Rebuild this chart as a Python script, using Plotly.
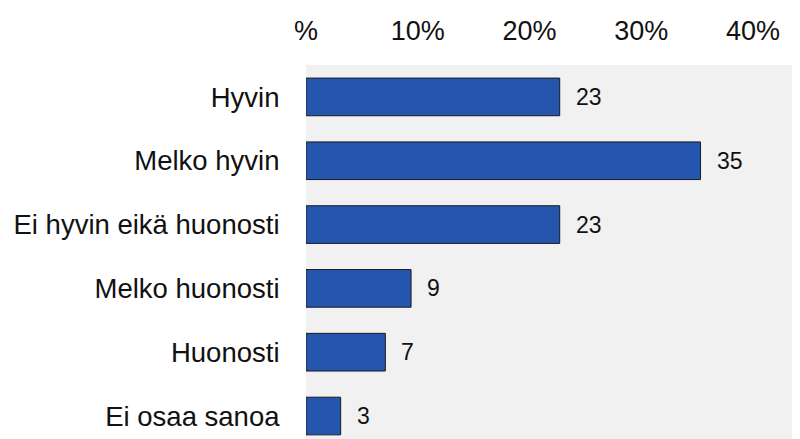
import plotly.graph_objects as go

categories = ["Hyvin", "Melko hyvin", "Ei hyvin eikä huonosti", "Melko huonosti", "Huonosti", "Ei osaa sanoa"]
values = [22.7, 35.3, 22.7, 9.4, 7.1, 3.1]
labels = ["23", "35", "23", "9", "7", "3"]
tick_vals = [0, 10, 20, 30, 40]
tick_text = ["%", "10%", "20%", "30%", "40%"]

FONT = "Liberation Sans, Arial, sans-serif"

fig = go.Figure()
fig.add_trace(go.Bar(
    x=values, y=categories, orientation="h",
    marker=dict(color="#2456ae", line=dict(color="#1a1a24", width=1)),
    hoverinfo="skip",
))

for v, c, t in zip(values, categories, labels):
    fig.add_annotation(x=v, y=c, text=t, showarrow=False, xanchor="left",
                       xshift=14, font=dict(family=FONT, size=23, color="#111111"))

# page body has an 8px default margin, so the figure is sized to fit the window
fig.update_layout(
    width=792, height=431,
    margin=dict(l=298, r=0, t=57, b=0, pad=0),
    paper_bgcolor="white", plot_bgcolor="#f1f1f1",
    bargap=0.41, showlegend=False,
    xaxis=dict(side="top", range=[0, 44.2], tickvals=tick_vals, ticktext=tick_text,
               showgrid=False, zeroline=False, showline=False, automargin=False,
               ticks="outside", ticklen=13, tickcolor="rgba(0,0,0,0)",
               tickfont=dict(family=FONT, size=27, color="#111111")),
    yaxis=dict(range=[5.36, -0.5], showgrid=False, zeroline=False, showline=False,
               automargin=False,
               ticks="outside", ticklen=20, tickcolor="rgba(0,0,0,0)",
               tickfont=dict(family=FONT, size=27.5, color="#111111")),
)

fig.write_html("out.html")
